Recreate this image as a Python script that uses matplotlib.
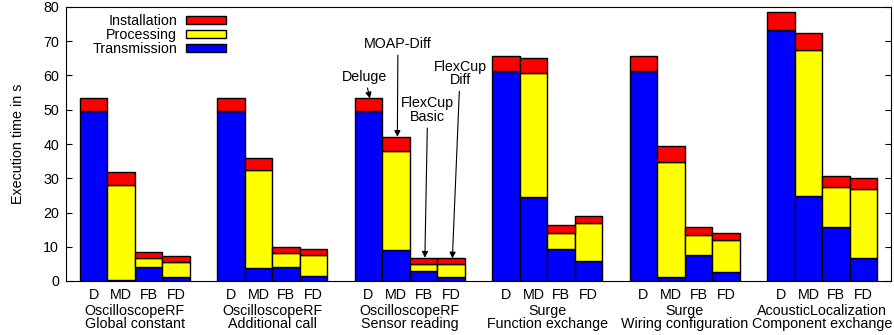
import numpy as np
import matplotlib
matplotlib.use("Agg")
import matplotlib.pyplot as plt

plt.rcParams['font.family'] = ['Liberation Sans', 'DejaVu Sans']
plt.rcParams['font.size'] = 10.3

# data (seconds)
groups = ["OscilloscopeRF\nGlobal constant", "OscilloscopeRF\nAdditional call",
          "OscilloscopeRF\nSensor reading", "Surge\nFunction exchange",
          "Surge\nWiring configuration", "AcousticLocalization\nComponent exchange"]
variants = ["D", "MD", "FB", "FD"]

# per group: D, MD, FB, FD
transmission = [[49.5, 0.2, 4.2, 1.1],
                [49.5, 3.9, 4.2, 1.5],
                [49.5, 9.0, 2.8, 1.3],
                [61.3, 24.6, 9.4, 5.8],
                [61.3, 1.2, 7.5, 2.6],
                [73.4, 24.9, 15.7, 6.6]]
processing = [[0.0, 27.8, 2.6, 4.5],
              [0.0, 28.4, 4.1, 6.1],
              [0.0, 29.1, 2.3, 3.6],
              [0.0, 36.1, 4.6, 11.0],
              [0.0, 33.6, 6.0, 9.3],
              [0.0, 42.4, 11.6, 20.3]]
installation = [[3.8, 3.7, 1.6, 1.7],
                [3.8, 3.7, 1.7, 1.8],
                [3.8, 4.0, 1.7, 1.7],
                [4.3, 4.3, 2.4, 2.3],
                [4.3, 4.5, 2.3, 2.2],
                [5.1, 5.0, 3.3, 3.3]]

trans = np.array(transmission).ravel()
proc = np.array(processing).ravel()
inst = np.array(installation).ravel()

ng = len(groups)
nv = len(variants)
pos = np.array([g * (nv + 1) + v for g in range(ng) for v in range(nv)], dtype=float)

fig = plt.figure(figsize=(8.95, 3.35), dpi=100)
ax = fig.add_axes([66 / 895, 54 / 335, 825 / 895, 274 / 335])

kw = dict(width=1.0, edgecolor='black', linewidth=1.0)
ax.bar(pos, trans, color='#0000ff', label='Transmission', **kw)
ax.bar(pos, proc, bottom=trans, color='#ffff00', label='Processing', **kw)
ax.bar(pos, inst, bottom=trans + proc, color='#ff0000', label='Installation', **kw)

ax.set_xlim(-1, ng * (nv + 1) - 1)
ax.set_ylim(0, 80)
ax.set_yticks(range(0, 81, 10))
ax.tick_params(axis='y', direction='in', right=True, length=4, pad=5)
ax.set_xticks(pos)
ax.set_xticklabels(variants * ng)
ax.tick_params(axis='x', length=0, pad=5)
ax.set_ylabel('Execution time in s', labelpad=13)

for g, name in enumerate(groups):
    cx = g * (nv + 1) + (nv - 1) / 2
    ax.annotate(name, xy=(cx, 0), xycoords=('data', 'axes fraction'),
                xytext=(0, -16.5), textcoords='offset points',
                ha='center', va='top', linespacing=0.95)

handles, labels = ax.get_legend_handles_labels()
ax.legend(handles[::-1], labels[::-1], loc='upper right',
          bbox_to_anchor=(160 / 825, 0.974),
          frameon=False, markerfirst=False, handlelength=2.8, handleheight=0.45,
          labelspacing=0.0, handletextpad=0.6, borderaxespad=0.0, borderpad=0.0)

# arrows pointing at the third group's bars
tot = trans + proc + inst
g3 = 2 * nv
notes = [("Deluge", 0, (9.87, 59.6)),
         ("MOAP-Diff", 1, (11.07, 69.2)),
         ("FlexCup\nBasic", 2, (12.15, 49.9)),
         ("FlexCup\nDiff", 3, (13.33, 60.6))]
for text, v, xyt in notes:
    i = g3 + v
    ax.annotate(text, xy=(pos[i] + 0.05, tot[i]), xytext=xyt,
                ha='center', va='center', linespacing=0.95,
                arrowprops=dict(arrowstyle='-|>', color='black', lw=0.8,
                                mutation_scale=9, shrinkA=1, shrinkB=0))

fig.savefig('out.png', dpi=100)
